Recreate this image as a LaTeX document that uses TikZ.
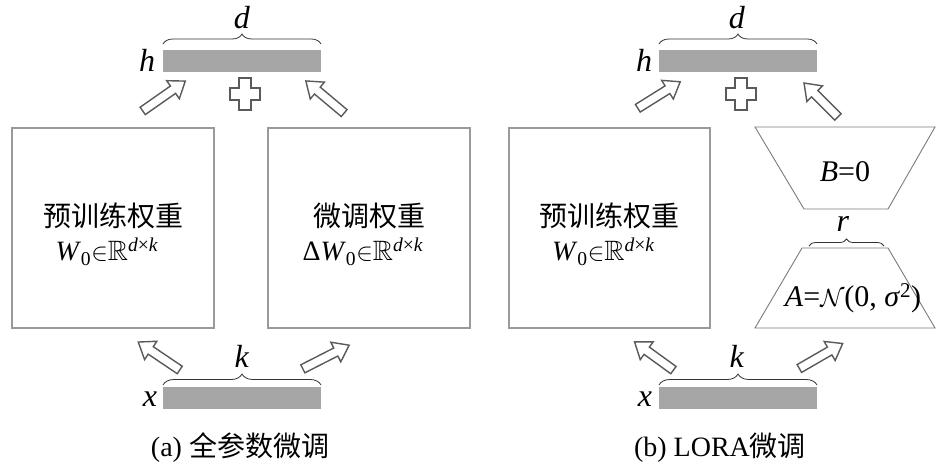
\documentclass[tikz,border=0pt]{standalone}
\usepackage{amssymb}
\usepackage{fontspec}
\setmainfont{Liberation Serif}
\newfontfamily\cjk{Noto Sans CJK SC}
\usetikzlibrary{decorations.pathreplacing}
\definecolor{barfill}{HTML}{A6A6A6}
\definecolor{arrowline}{HTML}{5A5A5A}
\definecolor{boxline}{HTML}{9A9A9A}
\tikzset{
  bar/.style={fill=barfill, draw=none},
  wbox/.style={draw=boxline, line width=1.3pt, fill=white},
  trap/.style={draw=boxline!80!black, line width=0.9pt, fill=white},
  hollow/.style={draw=arrowline, line width=1.4pt, fill=white, line join=miter},
  brc/.style={draw=black!80, line width=0.8pt, decorate},
  lbl/.style={font=\fontsize{32}{36}\selectfont, inner sep=0pt},
  cn/.style={font=\fontsize{28}{32}\selectfont\cjk, inner sep=0pt},
  fm/.style={font=\fontsize{28}{32}\selectfont, inner sep=0pt},
  trtxt/.style={font=\fontsize{30}{34}\selectfont, inner sep=0pt},
}
\newcommand\harrow[3]{%
  \begin{scope}[shift={#1}, rotate=#2]
    \draw[hollow] ({-#3/2},-4.5) -- ({#3/2-15},-4.5) -- ({#3/2-15},-11) -- ({#3/2},0)
      -- ({#3/2-15},11) -- ({#3/2-15},4.5) -- ({-#3/2},4.5) -- cycle;
  \end{scope}}
\newcommand\hplus[1]{%
  \begin{scope}[shift={#1}]
    \draw[hollow] (-6,-16) -- (6,-16) -- (6,-6) -- (15,-6) -- (15,6) -- (6,6) -- (6,16)
      -- (-6,16) -- (-6,6) -- (-15,6) -- (-15,-6) -- (-6,-6) -- cycle;
  \end{scope}}
\newcommand\dimsR{${\in}\mathbb{R}$\textsuperscript{\textit{d}×\textit{k}}}
\begin{document}
\begin{tikzpicture}[x=1pt, y=-1pt]
\useasboundingbox[fill=white] (0,0) rectangle (945,467);

% ---------- (a) ----------
\fill[bar] (163,50) rectangle (321,72);
\coordinate (ha1) at (163,44); \coordinate (ha2) at (321,44);
\draw[brc, decoration={brace, amplitude=10pt}] (ha1) -- (ha2);
\node[lbl] (da) at (242,18) {\textit{d}};
\node[lbl] (ha) at (147,60) {\textit{h}};
\harrow{(164,96)}{35}{52}
\harrow{(325,97)}{140}{50}
\hplus{(245,94)}

\node[wbox, minimum width=202pt, minimum height=200pt] (pre) at (113,228) {};
\node[cn] (pretxt) at (113,216) {预训练权重};
\node[fm] (preeq) at (107,252) {\textit{W}\textsubscript{0}\dimsR};

\node[wbox, minimum width=202pt, minimum height=200pt] (ft) at (369,228) {};
\node[cn] (fttxt) at (369,216) {微调权重};
\node[fm] (fteq) at (363,252) {Δ\textit{W}\textsubscript{0}\dimsR};

\fill[bar] (163,387) rectangle (321,409);
\coordinate (xa1) at (163,385); \coordinate (xa2) at (321,385);
\draw[brc, decoration={brace, amplitude=11pt}] (xa1) -- (xa2);
\node[lbl] (ka) at (242,356) {\textit{k}};
\node[lbl] (xa) at (150,399) {\textit{x}};
\harrow{(159,356)}{146}{50}
\harrow{(326,357)}{27}{52}

\node[cn] (capa) at (240,448) {\fontspec{Liberation Serif}(a) \cjk 全参数微调};

% ---------- (b) ----------
\fill[bar] (659,50) rectangle (817,72);
\coordinate (hb1) at (659,44); \coordinate (hb2) at (817,44);
\draw[brc, decoration={brace, amplitude=10pt}] (hb1) -- (hb2);
\node[lbl] (db) at (737,18) {\textit{d}};
\node[lbl] (hb) at (644,60) {\textit{h}};
\harrow{(659,95)}{32}{50}
\harrow{(821,100)}{135}{48}
\hplus{(741,94)}

\node[wbox, minimum width=201pt, minimum height=200pt] (preb) at (609.5,228) {};
\node[cn] (prebtxt) at (609.5,216) {预训练权重};
\node[fm] (prebeq) at (603.5,252) {\textit{W}\textsubscript{0}\dimsR};

\draw[trap] (755,127) -- (935,127) -- (888,209) -- (804,209) -- cycle;
\node[trtxt] (bz) at (845,172) {\textit{B}=0};
\coordinate (r1) at (809,246); \coordinate (r2) at (884,246);
\draw[brc, decoration={brace, amplitude=7pt}] (r1) -- (r2);
\node[lbl] (rl) at (843,224) {\textit{r}};
\draw[trap] (802,248) -- (888,248) -- (935,328) -- (755,328) -- cycle;
\node[trtxt] (az) at (853,298) {\textit{A}=$\mathcal{N}$(0, \textit{σ}\textsuperscript{2})};

\fill[bar] (659,387) rectangle (817,409);
\coordinate (xb1) at (659,385); \coordinate (xb2) at (817,385);
\draw[brc, decoration={brace, amplitude=11pt}] (xb1) -- (xb2);
\node[lbl] (kb) at (737,356) {\textit{k}};
\node[lbl] (xb) at (645,399) {\textit{x}};
\harrow{(654,356)}{144}{48}
\harrow{(821,356)}{30}{50}

\node[cn] (capb) at (720,448) {\fontspec{Liberation Serif}(b) LORA\cjk 微调};
\end{tikzpicture}
\end{document}
